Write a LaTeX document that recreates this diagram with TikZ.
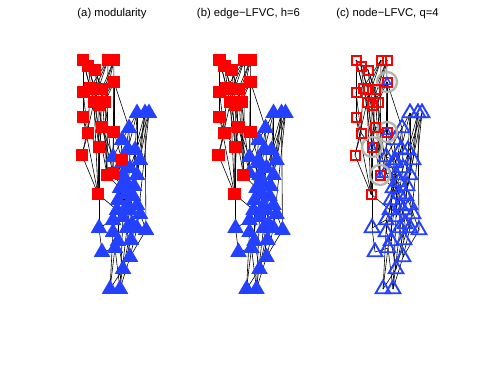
\documentclass[tikz,border=0pt]{standalone}
\usepackage{fontspec}
\setmainfont{Liberation Sans}
\usetikzlibrary{shapes.geometric}
\pgfdeclarelayer{bg}
\pgfsetlayers{bg,main}
\definecolor{nred}{RGB}{255,0,0}
\definecolor{nblue}{RGB}{35,65,255}
\definecolor{hgrey}{RGB}{180,180,172}
\tikzset{
 sqfill/.style={rectangle, fill=nred, inner sep=0pt, minimum size=12.5bp},
 trifill/.style={regular polygon, regular polygon sides=3, fill=nblue, inner sep=0pt, minimum size=19bp},
 sqhollow/.style={rectangle, draw=nred, line width=2bp, inner sep=0pt, minimum size=9bp},
 trihollow/.style={regular polygon, regular polygon sides=3, draw=nblue, line width=1.9bp, inner sep=0pt, minimum size=17bp},
 trismall/.style={regular polygon, regular polygon sides=3, draw=nblue, line width=1.4bp, inner sep=0pt, minimum size=9bp},
 hring/.style={circle, draw=hgrey, line width=2.3bp, minimum size=20bp, inner sep=0pt},
 edge/.style={line width=0.6bp, black},
 ttl/.style={font=\fontsize{11.3bp}{13bp}\selectfont, inner sep=0pt, text height=8.3bp, text depth=2.4bp}
}
\def\redall{r1/83/60, r2/88/66, r3/95/70, r4/108/60, r5/114/60, r6/83/92, r7/90/88, r8/95/89, r9/102/89, r10/114/82, r11/94/102, r12/99/105, r13/105/102, r14/83/117, r15/88/133, r16/102/127, r17/114/132, r18/99/147, r19/82/155, r20/122/160, r21/107/175, r22/113/173, r23/98/194}
\def\redpart{r1/83/60, r2/88/66, r3/95/70, r4/108/60, r5/114/60, r6/83/92, r7/90/88, r8/95/89, r9/102/89, r10/114/82, r11/94/102, r12/99/105, r13/105/102, r14/83/117, r15/88/133, r16/102/127, r17/114/132, r18/99/147, r19/82/155, r21/107/175, r23/98/194}
\def\blueall{b1/137/113, b2/145/113, b3/149/113, b4/129/128, b5/122/140, b6/135/150, b7/113/157, b8/122/163, b9/130/168, b10/137/175, b11/123/175, b12/120/188, b13/126/194, b14/133/196, b15/117/210, b16/130/210, b17/127/206, b18/137/205, b19/113/220, b20/99/228, b21/113/232, b22/127/228, b23/137/228, b24/146/230, b25/132/224, b26/118/241, b27/102/252, b28/115/248, b29/130/257, b30/123/269, b31/110/289, b32/120/289, b33/126/182, b34/134/186, b35/118/200, b36/140/214, b37/123/217, b38/131/240, b39/128/149, b40/140/160}
\def\movedblue{r20/122/160, r22/113/173}
\def\overlap{r10/114/82, r17/114/132, r18/99/147, r21/107/175}
\def\edgelist{r1/r6, r1/r7, r1/r11, r1/r3, r2/r8, r2/r12, r2/r3, r3/r9, r3/r13, r3/r16, r4/r8, r4/r11, r4/r7, r5/r9, r5/r12, r5/r13, r10/r13, r10/r17, r10/r22, r10/r12, r6/r14, r6/r15, r7/r15, r7/r12, r8/r18, r8/r16, r9/r21, r9/r23, r11/r19, r11/r21, r11/r23, r12/r13, r12/r23, r13/r21, r13/r22, r14/r15, r14/r23, r15/r18, r15/r19, r16/r17, r16/r18, r16/r22, r17/r20, r18/r23, r19/r23, r2/r18, r4/r21, r5/r22,
 b1/b4, b1/b10, b1/b14, b2/b6, b2/b14, b2/b24, b3/b9, b3/b16, b3/b23, b4/b5, b4/b9, b4/b12, b5/b7, b5/b15, b6/b10, b6/b16, b7/b11, b8/b12, b9/b13, b10/b14, b11/b15, b12/b16, b13/b17, b14/b18, b15/b19, b16/b22, b17/b23, b18/b24, b19/b20, b19/b21, b20/b27, b21/b26, b22/b29, b23/b29, b24/b29, b26/b30, b28/b31, b28/b32, b29/b32, b30/b31, b21/b31, b22/b32, b27/b28, b25/b30, b16/b25, b12/b21, b13/b22, b33/b37, b34/b36, b35/b26, b36/b38, b38/b30, b39/b8, b40/b34, b39/b35, b2/b40, b1/b39, b33/b28, b37/b32, b17/b38, b9/b35, b11/b37,
 r20/b7, r20/b8, r22/b11, r21/b12, r17/b5, r10/b4, r23/b15, r22/b13, r16/b7, r18/b20}
\begin{document}
\begin{tikzpicture}[x=1bp,y=-1bp]
\useasboundingbox (0,0) rectangle (485,364);
\node[ttl] (ta) at (112,14) {(a) modularity};
\node[ttl] (tb) at (248.5,14) {(b) edge−LFVC, h=6};
\node[ttl] (tc) at (387.5,14) {(c) node−LFVC, q=4};
% panel (a)
\begin{scope}
 \foreach \n/\x/\y in \blueall {\node[trifill] (a\n) at (\x,\y) {};}
 \foreach \n/\x/\y in \redall {\node[sqfill] (a\n) at (\x,\y) {};}
 \begin{pgfonlayer}{bg}
 \foreach \u/\v in \edgelist {\draw[edge] (a\u.center) -- (a\v.center);}
 \end{pgfonlayer}
\end{scope}
% panel (b)
\begin{scope}[xshift=136.5bp]
 \foreach \n/\x/\y in \blueall {\node[trifill] (b\n) at (\x,\y) {};}
 \foreach \n/\x/\y in \movedblue {\node[trifill] (b\n) at (\x,\y) {};}
 \foreach \n/\x/\y in \redpart {\node[sqfill] (b\n) at (\x,\y) {};}
 \begin{pgfonlayer}{bg}
 \foreach \u/\v in \edgelist {\draw[edge] (b\u.center) -- (b\v.center);}
 \end{pgfonlayer}
\end{scope}
% panel (c)
\begin{scope}[xshift=273bp]
 \foreach \n/\x/\y in \blueall {\node[trihollow] (c\n) at (\x,\y) {};}
 \foreach \n/\x/\y in \movedblue {\node[trihollow] (c\n) at (\x,\y) {};}
 \foreach \n/\x/\y in \overlap {\node[hring] (cring\n) at (\x,\y) {};}
 \foreach \n/\x/\y in \redpart {\node[sqhollow] (c\n) at (\x,\y) {};}
 \foreach \n/\x/\y in \overlap {\node[trismall] (ctri\n) at (\x,\y) {};}
 \begin{pgfonlayer}{bg}
 \foreach \u/\v in \edgelist {\draw[edge] (c\u.center) -- (c\v.center);}
 \end{pgfonlayer}
\end{scope}
\end{tikzpicture}
\end{document}
